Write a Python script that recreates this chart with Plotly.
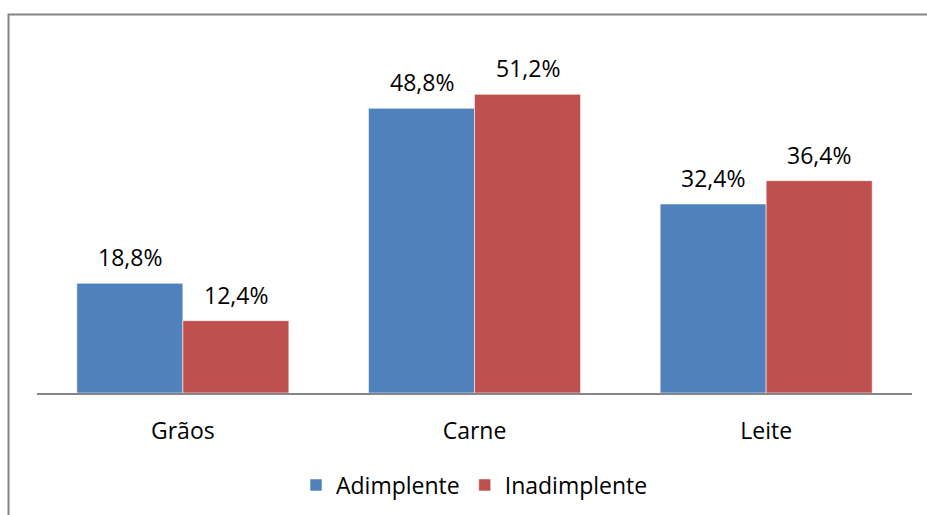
import plotly.graph_objects as go

categories = ["Grãos", "Carne", "Leite"]
adimplente = [18.8, 48.8, 32.4]
inadimplente = [12.4, 51.2, 36.4]
series_names = ["Adimplente", "Inadimplente"]
colors = ["#4F81BD", "#C0504D"]

FONT = "Open Sans"

fig = go.Figure()
for name, vals, col in zip(series_names, [adimplente, inadimplente], colors):
    fig.add_trace(go.Bar(
        name=name, x=categories, y=vals,
        marker=dict(color=col, line=dict(color="rgba(255,255,255,0.55)", width=1)),
        hoverinfo="skip",
    ))

# value labels above each bar
half = 53
for vals, shift in [(adimplente, -half), (inadimplente, half)]:
    for c, v in zip(categories, vals):
        fig.add_annotation(
            x=c, y=v, xref="x", yref="y", xshift=shift, yshift=8,
            text=f"{v:.1f}%".replace(".", ","), showarrow=False,
            yanchor="bottom", font=dict(family=FONT, size=23, color="#000000"),
        )

# outer chart frame (right and bottom edges fall outside the canvas)
fig.add_shape(type="rect", xref="paper", yref="paper",
              x0=(8.5 - 37) / 875, x1=(935 - 37) / 875,
              y0=(393 - 530) / 350, y1=(393 - 14.5) / 350,
              line=dict(color="#868686", width=2), fillcolor="rgba(0,0,0,0)",
              layer="below")

fig.update_layout(
    width=927, height=515,
    margin=dict(l=37, r=15, t=43, b=122, autoexpand=False),
    paper_bgcolor="white", plot_bgcolor="white",
    barmode="group", bargap=0.273, bargroupgap=0,
    font=dict(family=FONT, size=23, color="#000000"),
    showlegend=True,
    legend=dict(orientation="h", x=0.5, xanchor="center", y=(393 - 485) / 350, yanchor="middle",
                font=dict(family=FONT, size=23), itemwidth=30, traceorder="normal"),
    xaxis=dict(showline=True, linecolor="#868686", linewidth=2, ticks="",
               tickfont=dict(family=FONT, size=23), ticklabelstandoff=16,
               showgrid=False, zeroline=False),
    yaxis=dict(range=[0, 60], visible=False, showgrid=False, zeroline=False),
)

fig.write_html("out.html")
